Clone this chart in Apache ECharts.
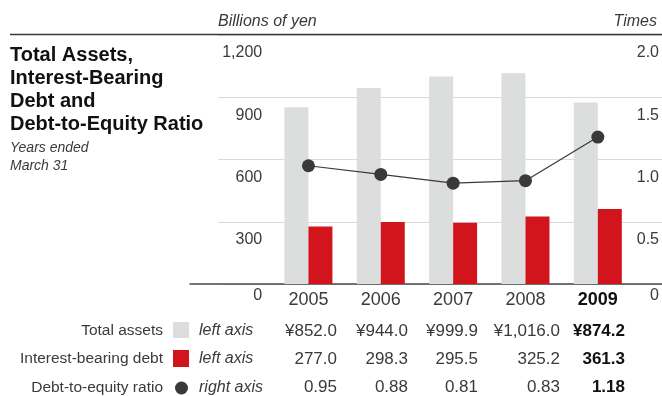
<!DOCTYPE html>
<html>
<head>
<meta charset="utf-8">
<script src="https://cdn.jsdelivr.net/npm/echarts@6/dist/echarts.min.js"></script>
<style>
html,body{margin:0;padding:0;background:#fff;}
#chart{width:662px;height:396px;}
</style>
</head>
<body>
<div id="chart"></div>
<script>
// ---- data ----
var years = ['2005', '2006', '2007', '2008', '2009'];
var totalAssets = [852.0, 944.0, 999.9, 1016.0, 874.2];
var interestDebt = [277.0, 298.3, 295.5, 325.2, 361.3];
var deRatio = [0.95, 0.88, 0.81, 0.83, 1.18];
var leftTicks = ['0', '300', '600', '900', '1,200'];
var rightTicks = ['0', '0.5', '1.0', '1.5', '2.0'];
var rowLabels = ['Total assets', 'Interest-bearing debt', 'Debt-to-equity ratio'];
var rowAxisNotes = ['left axis', 'left axis', 'right axis'];

// ---- layout ----
var FONT = "'Liberation Sans', Arial, Helvetica, sans-serif";
var colRight = [337, 408, 478, 560, 625];
var rowY = [331, 359, 387.5];
var GRAY = '#dcdddd', RED = '#d2151d', DOT = '#3b3838', TXT = '#3a3a3a';

function fmtYen(v) {
  var s = v.toFixed(1).split('.');
  s[0] = s[0].replace(/\B(?=(\d{3})+(?!\d))/g, ',');
  return '\u00a5' + s.join('.');
}
var tableRows = [
  totalAssets.map(fmtYen),
  interestDebt.map(function (v) { return v.toFixed(1); }),
  deRatio.map(function (v) { return v.toFixed(2); })
];

var chart = echarts.init(document.getElementById('chart'), null, {renderer: 'canvas'});

var graphics = [];
// header rule
graphics.push({type: 'line', shape: {x1: 10, y1: 34.5, x2: 662, y2: 34.5}, style: {stroke: '#3a3a3a', lineWidth: 1.5}, z: 100});
// title
graphics.push({type: 'text', z: 100, style: {x: 10, y: 44, text: 'Total Assets,\nInterest-Bearing\nDebt and\nDebt-to-Equity Ratio', font: 'bold 20px ' + FONT, lineHeight: 23, fill: '#111', textVerticalAlign: 'top'}});
graphics.push({type: 'text', z: 100, style: {x: 10, y: 139.5, text: 'Years ended\nMarch 31', font: 'italic 14px ' + FONT, lineHeight: 18, fill: TXT, textVerticalAlign: 'top'}});
graphics.push({type: 'text', z: 100, style: {x: 218, y: 22, text: 'Billions of yen', font: 'italic 16px ' + FONT, fill: TXT, textVerticalAlign: 'middle'}});
graphics.push({type: 'text', z: 100, style: {x: 657, y: 22, text: 'Times', font: 'italic 16px ' + FONT, fill: TXT, textAlign: 'right', textVerticalAlign: 'middle'}});
// table
for (var r = 0; r < 3; r++) {
  graphics.push({type: 'text', z: 100, style: {x: 163, y: rowY[r], text: rowLabels[r], font: '15.5px ' + FONT, fill: TXT, textAlign: 'right', textVerticalAlign: 'middle'}});
  graphics.push({type: 'text', z: 100, style: {x: 199, y: rowY[r], text: rowAxisNotes[r], font: 'italic 16px ' + FONT, fill: TXT, textVerticalAlign: 'middle'}});
  for (var c = 0; c < years.length; c++) {
    var last = c === years.length - 1;
    graphics.push({type: 'text', z: 100, style: {x: colRight[c], y: rowY[r], text: tableRows[r][c], font: (last ? 'bold ' : '') + '17px ' + FONT, fill: last ? '#111' : TXT, textAlign: 'right', textVerticalAlign: 'middle'}});
  }
}
graphics.push({type: 'rect', z: 100, shape: {x: 173, y: 322, width: 16, height: 16}, style: {fill: GRAY}});
graphics.push({type: 'rect', z: 100, shape: {x: 173, y: 350, width: 16, height: 17}, style: {fill: RED}});
graphics.push({type: 'circle', z: 100, shape: {cx: 181.5, cy: 388, r: 6.5}, style: {fill: DOT}});

function yLabel(list) {
  return function (v, i) {
    return (i === 0 ? '{z|' : '{n|') + list[i] + '}';
  };
}
var yRich = {
  n: {fontSize: 16, fontFamily: FONT, color: TXT, lineHeight: 16, padding: [20, 0, 0, 0]},
  z: {fontSize: 16, fontFamily: FONT, color: TXT, lineHeight: 16, padding: [7.5, 0, 0, 0]}
};

var option = {
  animation: false,
  backgroundColor: '#fff',
  textStyle: {fontFamily: FONT},
  grid: [
    {left: 218, right: 0, top: 35, height: 249},
    {left: 190, right: 0, top: 35, height: 249},
    {left: 272.25, width: 362.5, top: 35, height: 249}
  ],
  xAxis: [
    {gridIndex: 0, type: 'value', show: false},
    {gridIndex: 1, type: 'value', min: 0, max: 1, axisLine: {show: true, onZero: false, lineStyle: {color: '#4a4a4a', width: 1.5}}, axisTick: {show: false}, axisLabel: {show: false}, splitLine: {show: false}},
    {gridIndex: 2, type: 'category', data: years, axisLine: {show: false}, axisTick: {show: false},
      axisLabel: {interval: 0, margin: 7, color: TXT, fontSize: 18, lineHeight: 18, fontFamily: FONT,
        formatter: function (v, i) { return i === years.length - 1 ? '{b|' + v + '}' : v; },
        rich: {b: {fontWeight: 'bold', fontSize: 18, lineHeight: 18, color: '#111', fontFamily: FONT}}}}
  ],
  yAxis: [
    {gridIndex: 0, type: 'value', min: 0, max: 1200, interval: 300, axisLine: {show: false}, axisTick: {show: false}, axisLabel: {show: false},
      splitLine: {show: true, lineStyle: {color: '#dadada', width: 1.2}}},
    {gridIndex: 1, type: 'value', show: false},
    {gridIndex: 2, type: 'value', min: 0, max: 1200, interval: 300, position: 'left', axisLine: {show: false}, axisTick: {show: false}, splitLine: {show: false},
      axisLabel: {margin: 10, verticalAlign: 'top', formatter: yLabel(leftTicks), rich: yRich}},
    {gridIndex: 2, type: 'value', min: 0, max: 2, interval: 0.5, position: 'right', axisLine: {show: false}, axisTick: {show: false}, splitLine: {show: false},
      axisLabel: {margin: 25, align: 'right', verticalAlign: 'top', formatter: yLabel(rightTicks), rich: yRich}}
  ],
  series: [
    {name: 'Total assets', type: 'bar', xAxisIndex: 2, yAxisIndex: 2, data: totalAssets, barWidth: 24, barGap: '0%', itemStyle: {color: GRAY}},
    {name: 'Interest-bearing debt', type: 'bar', xAxisIndex: 2, yAxisIndex: 2, data: interestDebt, barWidth: 24, itemStyle: {color: RED}},
    {name: 'Debt-to-equity ratio', type: 'line', xAxisIndex: 2, yAxisIndex: 3, data: deRatio, symbol: 'circle', symbolSize: 13,
      itemStyle: {color: DOT}, lineStyle: {color: DOT, width: 1.2}, z: 5}
  ],
  graphic: graphics
};
chart.setOption(option);
</script>
</body>
</html>
